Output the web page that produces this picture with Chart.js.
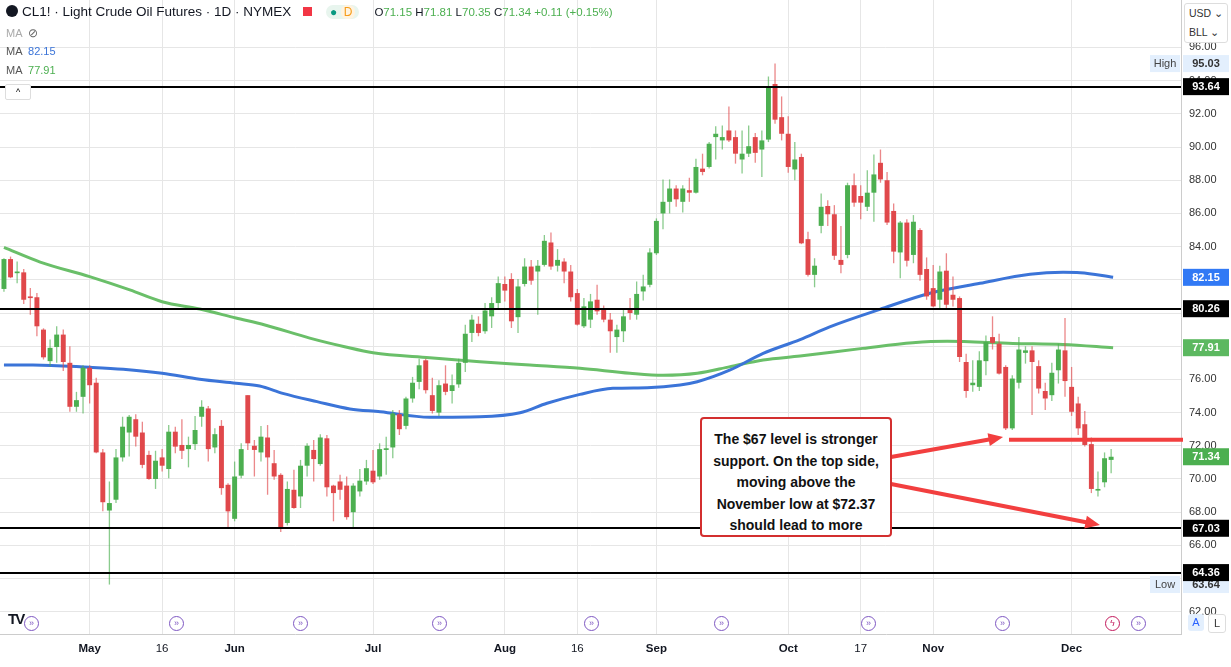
<!DOCTYPE html>
<html><head><meta charset="utf-8">
<script src="https://cdn.jsdelivr.net/npm/chart.js@4.4.1/dist/chart.umd.min.js"></script>
<style>
html,body{margin:0;padding:0;background:#fff;overflow:hidden;font-family:"Liberation Sans",Arial,sans-serif;}
#wrap{position:relative;width:1231px;height:667px;}
canvas{position:absolute;left:0;top:0;}
.ov{position:absolute;white-space:nowrap;}
#hdr{left:6px;top:4px;font-size:13.5px;color:#131722;font-family:"Liberation Sans",Arial,sans-serif;}
.ma{left:6px;font-size:11px;color:#787b86;}
#note{position:absolute;left:700px;top:417px;border:2px solid #d32f2f;border-radius:4px;background:#fff;
 font-weight:bold;font-size:14px;line-height:21.5px;text-align:center;color:#111;padding-top:10px;box-sizing:border-box;height:120px;width:192px;}
#cur{position:absolute;left:1184px;top:3px;width:44px;height:40px;border:1px solid #ddd;border-radius:3px;background:#fff;font-size:10.5px;color:#333;line-height:19px;padding-left:4px;box-sizing:border-box;}
.ev{position:absolute;top:616px;width:13px;height:13px;border:1.5px solid #7e57c2;border-radius:50%;color:#7e57c2;font-size:9px;line-height:13px;text-align:center;background:#fff;}
.btn{position:absolute;top:614px;width:16px;height:17px;font-size:11px;line-height:17px;text-align:center;border-radius:3px;}
</style></head>
<body><div id="wrap">
<canvas id="c" width="1231" height="667"></canvas>
<div id="hdr" class="ov"><span style="display:inline-block;width:12px;height:12px;border-radius:50%;background:#131722;vertical-align:-1px;margin-right:4px"></span>CL1! · Light Crude Oil Futures · 1D · NYMEX <span style="display:inline-block;width:9px;height:9px;background:#f23645;margin:0 14px 0 8px"></span><span style="display:inline-block;background:#e8f5ee;border-radius:8px;padding:0 4px;font-size:12px"><span style="color:#089981">●</span> <span style="color:#f59c1a;background:#fff3e0;border-radius:6px;padding:0 3px">D</span></span>&nbsp;&nbsp;&nbsp; <span style="font-size:11.5px">O<span style="color:#4caf50">71.15</span> H<span style="color:#4caf50">71.81</span> L<span style="color:#4caf50">70.35</span> C<span style="color:#4caf50">71.34</span> <span style="color:#4caf50">+0.11 (+0.15%)</span></span></div>
<div class="ov ma" style="top:26px;color:#aaa">MA &nbsp;<span style="font-size:12px;color:#666">⊘</span></div>
<div class="ov ma" style="top:45px;color:#555">MA &nbsp;<span style="color:#3b74d8">82.15</span></div>
<div class="ov ma" style="top:64px;color:#555">MA &nbsp;<span style="color:#4caf50">77.91</span></div>
<div class="ov" style="left:5px;top:84px;width:24px;height:14px;border:1px solid #ddd;border-radius:2px;background:#fff;font-size:9px;text-align:center;line-height:14px">^</div>
<div id="cur">USD ⌄<br>BLL ⌄</div>
<div id="note">The $67 level is stronger support. On the top side, moving above the November low at $72.37 should lead to more</div>
<div class="ov" style="left:8px;top:610px;font-weight:900;font-size:15px;color:#131722;letter-spacing:-2px">TV</div>
<div class="ev" style="left:24px">»</div><div class="ev" style="left:169px">»</div><div class="ev" style="left:293px">»</div>
<div class="ev" style="left:432px">»</div><div class="ev" style="left:584px">»</div><div class="ev" style="left:714px">»</div>
<div class="ev" style="left:861px">»</div><div class="ev" style="left:995px">»</div><div class="ev" style="left:1105px;border-color:#c2185b;color:#c2185b">ϟ</div>
<div class="ev" style="left:1131px">»</div>
<div class="btn" style="left:1188px;background:#e3effd;color:#2962ff">A</div>
<div class="btn" style="left:1208px;border:1px solid #ddd;color:#333">L</div>
</div>
<script>
// ---- data ----
const opens = [81.45,83.25,82.4,82.45,81.0,80.95,79.0,77.1,77.95,78.7,77.0,74.35,74.95,76.7,75.8,71.6,68.1,68.75,71.3,72.8,73.6,72.8,71.45,70.0,71.3,70.6,72.85,72.05,71.8,72.1,73.75,74.25,71.9,73.2,69.65,67.6,70.2,75.05,72.0,71.6,72.5,70.95,70.25,67.35,69.35,68.95,70.8,71.75,70.9,72.45,69.6,69.85,69.6,68.0,69.25,69.85,70.5,70.15,71.75,71.9,73.9,73.2,74.85,75.85,77.15,75.05,74.0,75.75,75.3,75.7,77.0,78.8,79.35,78.9,79.8,80.6,81.75,82.05,79.75,81.75,82.8,82.5,82.9,84.25,82.85,83.1,82.5,81.2,79.2,79.6,80.8,80.3,79.6,78.55,78.9,80.2,79.9,81.3,81.7,83.6,86.0,86.7,87.5,86.7,87.4,87.25,88.7,88.8,90.6,90.4,91.0,90.6,89.25,89.6,90.6,89.85,90.45,93.8,91.8,90.8,88.65,89.4,84.45,82.3,85.25,86.45,85.95,83.2,83.5,87.7,87.05,86.4,87.25,89.05,88.0,86.15,83.65,85.45,83.5,85.0,82.65,81.5,80.8,82.55,81.1,80.9,77.05,75.65,75.55,77.1,78.55,78.15,76.75,73.05,75.8,77.6,77.75,76.8,75.3,75.05,76.55,77.75,75.55,74.55,73.3,72.1,69.3,69.8,71.15];
const highs = [83.3,83.4,83.1,82.65,81.5,81.2,79.08,78.4,79.2,79.0,78.0,75.25,76.85,76.85,76.1,71.8,69.85,71.8,73.75,73.85,73.9,73.45,71.7,71.7,71.8,73.25,73.15,73.6,72.55,73.8,74.75,74.4,73.05,73.55,69.75,71.05,72.15,75.05,72.35,73.2,73.25,71.75,70.35,69.85,70.55,71.15,72.15,72.35,72.7,72.65,69.65,70.25,70.15,69.75,70.6,71.15,71.75,72.15,72.55,74.15,74.15,74.95,76.15,77.25,77.25,76.1,75.95,76.85,76.3,77.25,79.3,79.9,79.8,80.6,80.95,82.2,82.2,82.4,82.05,83.3,83.2,83.2,84.7,84.85,83.85,83.3,82.9,81.45,80.9,81.15,81.7,80.45,80.0,79.3,80.3,80.9,81.9,82.3,83.9,85.7,88.05,88.05,87.7,87.7,88.15,89.3,89.6,90.3,91.25,91.3,92.45,91.0,91.0,91.3,90.85,91.0,94.25,95.03,93.05,91.85,90.3,89.6,84.9,83.3,87.2,86.8,86.5,85.25,87.85,88.4,87.7,88.6,89.55,89.85,88.5,86.6,85.55,85.65,85.9,85.1,83.35,82.9,82.85,83.6,82.2,81.0,77.55,77.15,77.7,78.65,79.8,78.75,76.85,76.25,78.55,78.0,78.0,77.15,75.8,77.0,78.15,79.7,76.75,74.95,74.1,72.5,70.45,71.6,71.81];
const lows = [81.28,82.1,81.8,80.55,79.9,78.6,77.2,76.8,77.0,76.5,74.05,74.05,73.95,74.55,71.55,68.05,63.64,68.55,71.05,71.35,71.95,70.65,69.95,69.4,70.45,70.05,71.55,71.2,70.7,71.75,73.15,71.05,71.55,69.05,67.1,67.45,70.05,71.75,70.15,71.05,69.05,69.95,66.8,67.2,68.2,68.25,70.15,69.85,70.8,68.95,67.45,68.75,67.55,67.1,68.95,69.65,69.7,69.95,70.25,71.25,72.65,73.0,74.6,75.4,75.15,73.95,73.8,75.05,74.55,75.5,76.45,78.25,78.6,78.75,79.1,80.3,80.7,79.1,78.8,81.6,81.7,79.9,82.8,82.6,82.5,81.8,80.7,79.25,79.1,79.1,79.9,79.45,77.6,77.6,78.25,79.6,79.6,80.75,81.55,83.5,85.05,86.0,86.4,86.05,86.7,87.2,88.3,88.7,89.25,89.85,90.3,89.0,88.4,89.4,89.05,88.2,90.3,91.4,90.4,88.45,88.0,84.15,82.2,81.55,84.8,85.25,83.2,82.4,83.3,86.4,85.65,86.15,85.5,87.85,85.3,83.0,82.1,82.8,83.0,81.95,80.8,80.35,80.2,80.2,80.4,77.05,74.9,75.25,75.3,76.25,77.8,76.3,72.95,72.95,75.45,76.95,73.85,75.15,74.15,74.7,75.75,74.95,73.8,72.65,71.95,69.15,68.95,69.5,70.35];
const closes = [83.25,82.15,82.5,80.8,80.9,79.2,77.33,77.9,78.7,77.05,74.35,74.75,76.7,75.65,71.6,68.6,68.55,71.3,73.15,73.75,72.55,70.85,70.0,71.1,70.8,72.85,71.95,71.7,72.05,72.95,74.35,71.8,72.7,69.45,68.05,70.15,71.8,72.15,71.75,72.55,71.3,70.15,67.1,69.4,68.25,70.8,72.0,71.2,72.5,69.5,69.15,69.35,67.7,69.6,69.9,70.65,69.8,71.8,71.85,73.95,73.0,74.85,75.8,76.85,75.35,74.1,75.65,75.25,75.65,77.0,78.75,79.6,78.8,80.15,80.6,81.8,81.35,79.5,81.6,82.8,81.95,82.85,84.35,82.8,83.2,82.5,80.95,79.3,80.4,80.7,80.1,79.6,78.9,79.0,79.8,80.0,81.15,81.6,83.65,85.55,86.7,87.5,86.85,87.5,87.25,88.8,88.5,90.2,90.8,90.6,90.4,89.6,89.6,90.05,89.65,90.4,93.65,91.65,90.8,88.8,89.25,84.2,82.3,82.85,86.4,85.95,83.45,82.9,87.7,86.65,86.65,87.25,88.35,88.05,85.45,83.7,85.45,83.15,85.5,82.3,81.0,80.4,82.5,80.5,80.8,77.35,75.3,75.8,77.15,78.25,78.2,76.35,73.05,76.05,77.8,77.75,77.05,75.45,74.85,76.4,77.8,75.9,74.05,73.05,72.05,69.4,69.4,71.25,71.34];
// moving averages: [bar index, value]
const maBlue = [[0,76.87],[4.4,76.87],[13,76.73],[18.1,76.61],[24,76.37],[29.7,76.01],[35.2,75.77],[38.8,75.6],[42.3,75.16],[47.5,74.66],[52.5,74.22],[57.1,74.05],[64.6,73.72],[72.2,73.75],[78.3,73.99],[82.4,74.56],[87.4,75.1],[92.4,75.46],[97.6,75.5],[102.6,75.66],[105.2,75.86],[110.2,76.57],[115.2,77.57],[120.8,78.4],[125.3,79.17],[132.9,80.22],[140.5,81.19],[148.1,81.79],[155.7,82.33],[160.7,82.45],[163.3,82.43],[168.3,82.15]];
const maGreen = [[0,83.95],[5.5,83.07],[13,82.19],[19.1,81.39],[24,80.68],[29.7,80.24],[35.2,79.7],[39.6,79.28],[46.4,78.49],[51.7,77.97],[56,77.61],[64.6,77.31],[72.2,77.07],[79.8,76.87],[87.4,76.67],[95,76.37],[100,76.25],[105.2,76.37],[110.2,76.77],[115.2,77.17],[120.8,77.41],[130.3,77.87],[137.9,78.21],[143.1,78.3],[153.1,78.17],[160.7,78.11],[168.3,77.91]];
const tickLabels = ['May','16','Jun','Jul','Aug','16','Sep','Oct','17','Nov','Dec'];
const tickBars   = [13,24,35,56,76,87,99,119,130,141,162];
const levelLines = [93.64,80.26,67.03,64.36];
const novLow = 72.37, novLowBar = 152.5;
const highVal = 95.03, lowVal = 63.64, lastClose = 71.34, maBlueLast = 82.15, maGreenLast = 77.91;

const GREEN='#4caf50', RED='#e0484b', GW='rgba(76,175,80,0.65)', RW='rgba(224,72,75,0.65)';
const up = closes.map((c,i)=>c>=opens[i]);
const bodies = opens.map((o,i)=>({x:i,y:[o,closes[i]]}));
const wicks = lows.map((l,i)=>({x:i,y:[l,highs[i]]}));

const overlay = {
  id:'overlay',
  afterDatasetsDraw(ch){
    const {ctx, chartArea:a, scales:{x,y}} = ch;
    ctx.save();
    ctx.beginPath(); ctx.rect(a.left,a.top,a.right-a.left+4,a.bottom-a.top); ctx.clip();
    ctx.strokeStyle='#000'; ctx.lineWidth=2;
    levelLines.forEach(v=>{const py=Math.round(y.getPixelForValue(v));ctx.beginPath();ctx.moveTo(a.left,py);ctx.lineTo(a.right,py);ctx.stroke();});
    ctx.strokeStyle='#f23f3f'; ctx.lineWidth=4;
    const ny=y.getPixelForValue(novLow);
    ctx.beginPath();ctx.moveTo(x.getPixelForValue(novLowBar),ny);ctx.lineTo(a.right+2,ny);ctx.stroke();
    const arrow=(x1,y1,x2,y2)=>{
      const p1=[x.getPixelForValue(x1),y.getPixelForValue(y1)], p2=[x.getPixelForValue(x2),y.getPixelForValue(y2)];
      const ang=Math.atan2(p2[1]-p1[1],p2[0]-p1[0]); const L=16;
      ctx.beginPath();ctx.moveTo(p1[0],p1[1]);ctx.lineTo(p2[0]-L*Math.cos(ang)*0.8,p2[1]-L*Math.sin(ang)*0.8);ctx.stroke();
      ctx.beginPath();ctx.moveTo(p2[0],p2[1]);
      ctx.lineTo(p2[0]-L*Math.cos(ang-0.42),p2[1]-L*Math.sin(ang-0.42));
      ctx.lineTo(p2[0]-L*Math.cos(ang+0.42),p2[1]-L*Math.sin(ang+0.42));ctx.closePath();ctx.fill();
    };
    ctx.fillStyle='#f23f3f';
    arrow(134.6,71.33,151.6,72.53);
    arrow(134.6,69.7,166.3,67.23);
    ctx.restore();
  },
  afterDraw(ch){
    const {ctx, chartArea:a, scales:{y}} = ch;
    ctx.save();
    ctx.font='bold 11px "Liberation Sans", Arial'; ctx.textAlign='center'; ctx.textBaseline='middle';
    const badge=(v,txt,bg,fg)=>{const py=y.getPixelForValue(v);ctx.fillStyle=bg;ctx.fillRect(a.right+2,py-8.5,46,17);ctx.fillStyle=fg;ctx.fillText(txt,a.right+25,py+0.5);};
    badge(highVal,highVal.toFixed(2),'#e3effd','#333');
    badge(lowVal,lowVal.toFixed(2),'#e3effd','#333');
    levelLines.forEach(v=>badge(v,v.toFixed(2),'#000','#fff'));
    badge(maBlueLast,maBlueLast.toFixed(2),'#3179f5','#fff');
    badge(maGreenLast,maGreenLast.toFixed(2),'#5cb860','#fff');
    badge(lastClose,lastClose.toFixed(2),'#4caf50','#fff');
    ctx.font='11px "Liberation Sans", Arial';
    [[highVal,'High'],[lowVal,'Low']].forEach(([v,t])=>{const py=y.getPixelForValue(v);ctx.fillStyle='#e3effd';ctx.fillRect(a.right-31,py-8.5,30,17);ctx.fillStyle='#444';ctx.fillText(t,a.right-16,py+0.5);});
    ctx.restore();
  }
};

new Chart(document.getElementById('c'),{
  type:'bar',
  data:{datasets:[
    {type:'line',data:maBlue.map(p=>({x:p[0],y:p[1]})),borderColor:'#3b74d8',borderWidth:3,pointRadius:0,cubicInterpolationMode:'monotone',order:3},
    {type:'line',data:maGreen.map(p=>({x:p[0],y:p[1]})),borderColor:'#6abf69',borderWidth:3,pointRadius:0,cubicInterpolationMode:'monotone',order:3},
    {data:wicks,backgroundColor:up.map(u=>u?GW:RW),barPercentage:0.2,categoryPercentage:1,grouped:false,order:2},
    {data:bodies,backgroundColor:up.map(u=>u?GREEN:RED),barPercentage:0.75,categoryPercentage:1,grouped:false,minBarLength:1.5,order:1}
  ]},
  options:{
    responsive:false,animation:false,
    layout:{padding:0},
    plugins:{legend:{display:false},tooltip:{enabled:false}},
    scales:{
      x:{type:'linear',offset:false,min:-0.6,max:178.6,
        afterFit(s){s.height=33;},
        afterBuildTicks(s){s.ticks=tickBars.map(v=>({value:v}));},
        ticks:{autoSkip:false,maxRotation:0,padding:8,color:'#131722',
          callback:(v)=>tickLabels[tickBars.indexOf(v)],
          font:(c)=>({size:11.5,family:'"Liberation Sans", Arial',weight:/^\d/.test(tickLabels[c.index]||'')?'normal':'bold'})},
        grid:{color:'#e6e6e6',drawTicks:false,offset:false},border:{color:'#ccc'}},
      y:{position:'right',min:60.66,max:98.86,
        afterFit(s){s.width=50;s.paddingTop=0;s.paddingBottom=0;},
        afterBuildTicks(s){const t=[];for(let v=62;v<=96;v+=2)t.push({value:v});s.ticks=t;},
        ticks:{color:'#333',padding:8,font:{size:11,family:'"Liberation Sans", Arial'},callback:v=>v.toFixed(2)},
        grid:{color:'#e6e6e6',drawTicks:false},border:{color:'#ccc'}}
    }
  },
  plugins:[overlay]
});
</script>
</body></html>
